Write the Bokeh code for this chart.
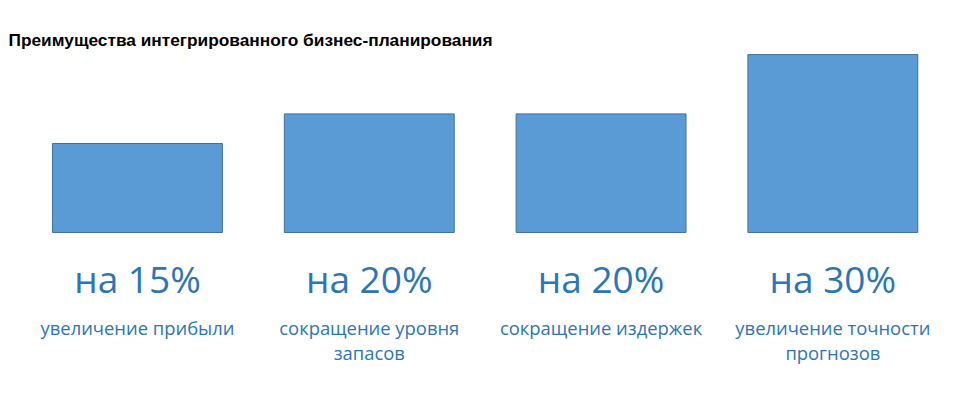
from bokeh.plotting import figure
from bokeh.models import ColumnDataSource, Range1d, Label
from bokeh.embed import file_html
from bokeh.resources import INLINE
from bokeh.core.properties import value

title_text = "Преимущества интегрированного бизнес-планирования"
categories = ["увеличение прибыли", "сокращение уровня\nзапасов",
              "сокращение издержек", "увеличение точности\nпрогнозов"]
percent = [15, 20, 20, 30]
big_labels = ["на %d%%" % v for v in percent]

W, H = 964, 398
xs = list(range(len(categories)))
src = ColumnDataSource(dict(x=xs, top=percent, big=big_labels, cat=categories))

p = figure(width=W, height=H, output_backend="svg", toolbar_location=None,
           x_range=Range1d(-0.591, 3.568), y_range=Range1d(-28.0, 39.12),
           min_border=0, outline_line_color=None)
p.axis.visible = False
p.grid.visible = False
p.background_fill_color = "white"
p.border_fill_color = "white"

p.vbar(x="x", top="top", bottom=0, width=0.733, source=src,
       fill_color="#5B9BD5", line_color="#41719C", line_width=1)

blue = "#2E75B6"
p.text(x="x", y=0, text="big", source=src, text_align="center",
       text_baseline="alphabetic", y_offset=46, text_color=blue,
       text_font=value("Open Sans"), text_font_size="37px")
p.text(x="x", y=0, text="cat", source=src, text_align="center",
       text_baseline="top", y_offset=83, text_color=blue,
       text_font=value("Open Sans"), text_font_size="18.4px",
       text_line_height=1.0)

p.add_layout(Label(x=8, y=H - 39, x_units="screen", y_units="screen",
                   text=title_text, text_font="Liberation Sans",
                   text_font_style="bold", text_font_size="17.3px",
                   text_color="black", text_baseline="alphabetic"))

open("out.html", "w").write(file_html(p, INLINE))
